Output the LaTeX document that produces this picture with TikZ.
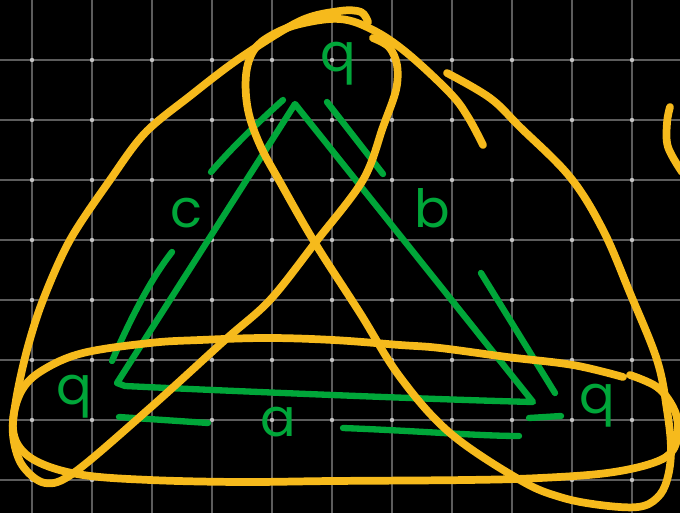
\documentclass[tikz,border=0pt]{standalone}
\usepackage{fontspec}
\newfontfamily\handfont{Poppins}
\usepackage{xcolor}
\usepackage{tikz}
\usetikzlibrary{calc}
\definecolor{BoardBg}{RGB}{0, 0, 0}
\definecolor{GridGray}{RGB}{92, 92, 92}
\definecolor{GridDot}{RGB}{195, 195, 195}
\definecolor{PenGreen}{RGB}{0, 166, 57}
\definecolor{PenYellow}{RGB}{246, 186, 28}

\begin{document}
\begin{tikzpicture}[x=0.02cm, y=-0.02cm,
  gridline/.style={draw=GridGray, line width=0.8pt},
  griddot/.style={fill=GridDot},
  loop/.style={draw=PenYellow, line width=4.4pt, line cap=round, line join=round},
  pen/.style={draw=PenGreen, line width=3.6pt, line cap=round, line join=round},
  lbl/.style={anchor=base, inner sep=0pt, text=PenGreen,
    font=\handfont\fontsize{30}{30}\selectfont}
]
\fill[BoardBg] (0,0) rectangle (680,513);
\useasboundingbox (0,0) rectangle (680,513);

\foreach \x in {32,92,...,632} \draw[gridline] (\x,0) -- (\x,513);
\foreach \y in {60,120,...,480} \draw[gridline] (0,\y) -- (680,\y);
\foreach \x in {32,92,...,632}
  \foreach \y in {60,120,...,480} \fill[griddot] (\x,\y) circle (2.2);

\coordinate (vtop)   at (295,104);
\coordinate (vleft)  at (117,383);
\coordinate (vright) at (533,402);

\draw[pen] (vleft) -- (vtop) -- (vright) .. controls (450,400) and (250,392) .. (125,386) -- cycle;
\draw[pen] (283,100) .. controls (255,125) and (230,150) .. (211,172);
\draw[pen] (172,252) .. controls (150,280) and (130,320) .. (112,361);
\draw[pen] (327,102) -- (383,174);
\draw[pen] (481,273) -- (555,393);
\draw[pen] (119,417) -- (208,423);
\draw[pen] (343,428) .. controls (420,431) and (480,436) .. (519,436);
\draw[pen] (529,418) -- (561,416);

\node[lbl] (qtop)   at (338,72)  {q};
\node[lbl] (qleft)  at (74,404)  {q};
\node[lbl] (qright) at (597,414) {q};
\node[lbl] (sidec)  at (186,228) {c};
\node[lbl] (sideb)  at (432,228) {b};
\node[lbl] (sidea)  at (278,437) {a};

\draw[loop] plot[smooth, tension=0.55] coordinates {(368,22) (361,12) (340,11) (300,21) (240,58)
  (190,96) (145,133) (110,180) (70,240) (43,300) (27,350) (16,400) (13,435) (22,465) (45,483)
  (75,472) (150,408) (225,340) (270,300) (315,243) (363,180) (383,127) (396,90) (397,65)
  (389,47) (373,38)};
\draw[loop] plot[smooth, tension=0.6] coordinates {(483,145) (468,117) (450,93) (407,53) (373,30)
  (340,19) (300,24) (272,35) (254,50) (246,75) (248,110) (260,145) (280,182) (315,243) (360,313)
  (400,377) (450,433) (520,480) (560,497) (600,505) (638,507) (657,498) (667,480) (671,450)
  (667,410) (657,360) (630,293) (603,230) (570,177) (520,127) (490,98) (447,73)};
\draw[loop] plot[smooth, tension=0.6] coordinates {(630,375) (657,387) (673,407) (678,427)
  (673,450) (653,463) (607,473) (540,478) (467,480) (333,481) (240,482) (150,480) (83,475)
  (40,463) (18,445) (13,420) (22,390) (43,370) (83,353) (150,343) (200,340) (267,338) (333,340)
  (400,345) (440,348) (507,357) (573,365) (623,377)};
\draw[loop] plot[smooth, tension=0.6] coordinates {(670,107) (667,123) (668,147) (682,172)};
\end{tikzpicture}
\end{document}
